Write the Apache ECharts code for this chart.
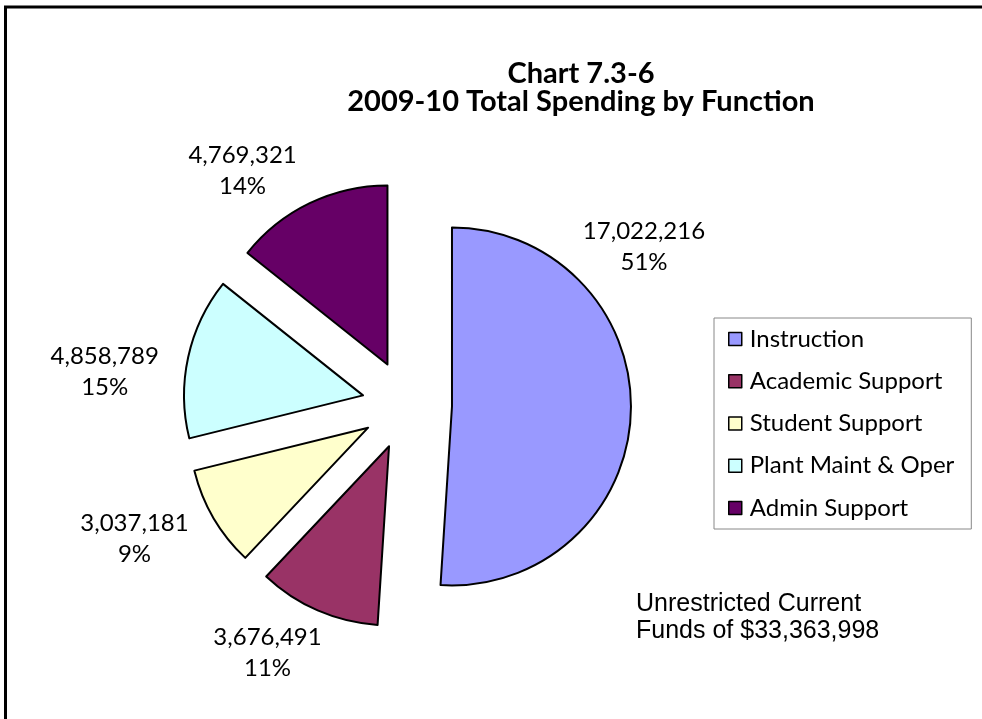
<!DOCTYPE html>
<html>
<head>
<meta charset="utf-8">
<title>Chart 7.3-6</title>
<script src="https://cdn.jsdelivr.net/npm/echarts@6/dist/echarts.min.js"></script>
<style>
  html, body { margin: 0; padding: 0; background: #fff; overflow: hidden; }
  #chart { width: 982px; height: 719px; }
</style>
</head>
<body>
<div id="chart"></div>
<script>
// spending by function, 2009-10
var categories = ['Instruction', 'Academic Support', 'Student Support', 'Plant Maint & Oper', 'Admin Support']
var amounts = [17022216, 3676491, 3037181, 4858789, 4769321]
var total = 33363998

var colors = ['#9999FF', '#993366', '#FFFFCC', '#CCFFFF', '#660066']
// nudges of each data label from its default outside spot
var labelShift = [[-78, -166], [16, 15], [1, 6], [0, 21], [0, -5]]

var labelFont = 'Lato, "Open Sans", sans-serif'

var chart = echarts.init(document.getElementById('chart'))

function fmt(n) {
  return n.toString().replace(/\B(?=(\d{3})+(?!\d))/g, ',')
}

chart.setOption({
  animation: false,
  color: colors,
  title: {
    text: 'Chart 7.3-6\n2009-10 Total Spending by Function',
    left: 576,
    top: 55,
    textAlign: 'center',
    textStyle: {
      fontFamily: labelFont,
      fontWeight: 'bold',
      fontSize: 29,
      lineHeight: 28,
      color: '#000'
    }
  },
  legend: {
    orient: 'vertical',
    left: 714,
    top: 318,
    padding: [9, 17, 9, 14],
    backgroundColor: '#fff',
    borderColor: '#888',
    borderWidth: 1,
    borderRadius: 0,
    icon: 'rect',
    itemWidth: 13,
    itemHeight: 13,
    itemGap: 18.25,
    selectedMode: false,
    itemStyle: {
      borderColor: '#000',
      borderWidth: 1.5
    },
    textStyle: {
      fontFamily: labelFont,
      fontSize: 24,
      lineHeight: 24,
      color: '#000',
      padding: [0, 0, 0, 3]
    },
    data: categories
  },
  graphic: [
    {
      // outer frame, only left and top edges fall inside the picture
      type: 'polyline',
      shape: { points: [[5.5, 740], [5.5, 7], [1000, 7]] },
      style: { fill: null, stroke: '#000', lineWidth: 3 },
      silent: true
    },
    {
      type: 'text',
      x: 636,
      y: 591,
      style: {
        text: 'Unrestricted Current\nFunds of $' + fmt(total),
        font: '25px "Liberation Sans", Arial, sans-serif',
        lineHeight: 27,
        fill: '#000'
      }
    }
  ],
  series: [{
    type: 'pie',
    center: [407, 405],
    radius: 179,
    startAngle: 90,
    clockwise: true,
    selectedMode: 'multiple',
    selectedOffset: 45,
    avoidLabelOverlap: false,
    emphasis: { disabled: true },
    itemStyle: {
      borderColor: '#000',
      borderWidth: 2
    },
    label: {
      show: true,
      position: 'outside',
      distanceToLabelLine: 0,
      formatter: function (p) {
        return '{v|' + fmt(p.value) + '}\n{v|' + Math.round(p.percent) + '%}'
      },
      rich: {
        v: {
          align: 'center',
          fontFamily: labelFont,
          fontSize: 24,
          lineHeight: 31,
          color: '#000'
        }
      }
    },
    labelLine: { show: false, length: 30, length2: 0 },
    labelLayout: function (p) {
      var s = labelShift[p.dataIndex]
      return { dx: s[0], dy: s[1] }
    },
    data: categories.map(function (name, i) {
      return { name: name, value: amounts[i], selected: true }
    })
  }]
})
</script>
</body>
</html>
